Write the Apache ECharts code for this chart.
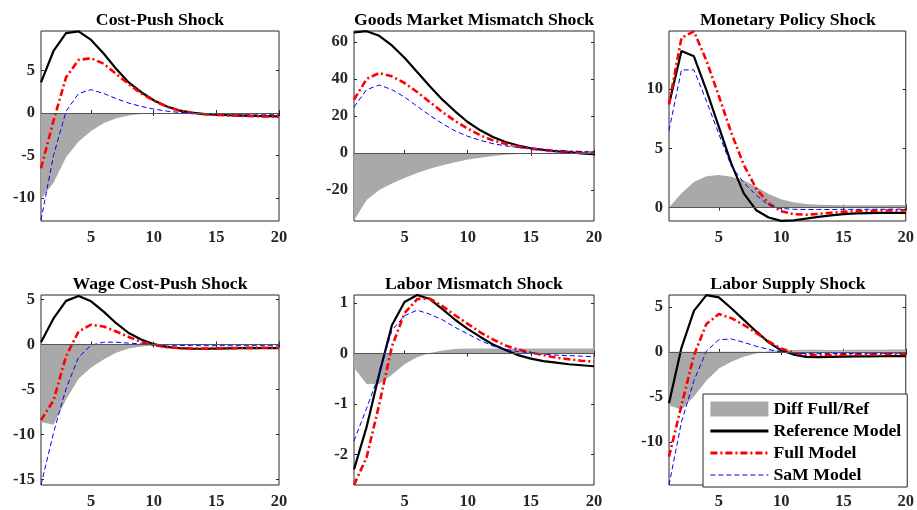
<!DOCTYPE html>
<html>
<head>
<meta charset="utf-8">
<script src="https://cdn.jsdelivr.net/npm/echarts@6/dist/echarts.min.js"></script>
<style>html,body{margin:0;padding:0;background:#fff}#c{width:917px;height:510px}</style>
</head>
<body>
<div id="c"></div>
<script>
// ---------- data ----------
const periods = [1,2,3,4,5,6,7,8,9,10,11,12,13,14,15,16,17,18,19,20];
const titles = ['Cost-Push Shock','Goods Market Mismatch Shock','Monetary Policy Shock','Wage Cost-Push Shock','Labor Mismatch Shock','Labor Supply Shock'];
const xTicks = [5,10,15,20];

// Cost-Push
const ref1  = [3.6, 7.3, 9.4, 9.6, 8.6, 7.0, 5.2, 3.6, 2.45, 1.5, 0.8, 0.32, 0.04, -0.12, -0.2, -0.26, -0.3, -0.34, -0.37, -0.4];
const full1 = [-6.5, -0.9, 4.2, 6.25, 6.45, 5.8, 4.6, 3.4, 2.3, 1.45, 0.78, 0.3, 0.02, -0.12, -0.22, -0.28, -0.33, -0.37, -0.4, -0.43];
const sam1  = [-12.6, -5.0, 0.2, 2.3, 2.75, 2.3, 1.7, 1.17, 0.78, 0.47, 0.23, 0.08, 0.0, -0.05, -0.08, -0.1, -0.12, -0.13, -0.14, -0.15];
const diff1 = [-10.1, -8.2, -5.2, -3.35, -2.1, -1.2, -0.62, -0.28, -0.12, -0.04, -0.01, 0, 0, 0, -0.01, -0.02, -0.03, -0.03, -0.03, -0.03];
const yTicks1 = [-10,-5,0,5];

// Goods Market Mismatch
const ref2  = [65.1, 65.8, 63.3, 58.1, 51.4, 43.7, 36.0, 28.8, 22.5, 16.7, 12.2, 8.6, 5.9, 4.0, 2.5, 1.6, 0.9, 0.35, -0.2, -0.7];
const full2 = [28.8, 40.0, 43.2, 41.4, 37.8, 32.9, 27.5, 22.1, 17.3, 13.1, 9.5, 6.8, 4.9, 3.4, 2.3, 1.6, 1.1, 0.7, 0.4, 0.2];
const sam2  = [24.8, 34.2, 36.7, 34.2, 30.2, 25.2, 20.3, 15.8, 11.9, 9.0, 6.8, 5.0, 3.8, 2.9, 2.2, 1.6, 1.2, 0.9, 0.7, 0.5];
const diff2 = [-36.5, -25.5, -20.0, -16.5, -13.5, -10.8, -8.5, -6.7, -5.0, -3.6, -2.6, -1.7, -1.0, -0.6, -0.2, 0, 0.2, 0.35, 0.6, 0.9];
const yTicks2 = [-20,0,20,40,60];

// Monetary Policy
const ref3  = [8.7, 13.2, 12.75, 9.9, 6.8, 3.7, 1.2, -0.22, -0.84, -1.12, -1.07, -0.93, -0.79, -0.65, -0.55, -0.49, -0.46, -0.45, -0.45, -0.45];
const full3 = [8.7, 14.3, 14.85, 12.4, 9.4, 6.3, 3.6, 1.6, 0.35, -0.3, -0.55, -0.6, -0.53, -0.44, -0.36, -0.3, -0.27, -0.25, -0.24, -0.23];
const sam3  = [6.5, 11.6, 11.6, 9.0, 6.2, 3.5, 2.1, 1.05, 0.2, -0.08, -0.14, -0.16, -0.16, -0.16, -0.15, -0.15, -0.14, -0.14, -0.13, -0.13];
const diff3 = [0, 1.2, 2.15, 2.65, 2.75, 2.6, 2.3, 1.75, 1.15, 0.7, 0.45, 0.3, 0.24, 0.21, 0.2, 0.2, 0.2, 0.2, 0.21, 0.21];
const yTicks3 = [0,5,10];

// Wage Cost-Push
const ref4  = [0.25, 2.9, 4.85, 5.4, 4.8, 3.65, 2.37, 1.28, 0.55, 0.04, -0.26, -0.4, -0.46, -0.47, -0.45, -0.43, -0.41, -0.4, -0.4, -0.4];
const full4 = [-8.4, -6.2, -1.3, 1.45, 2.2, 2.0, 1.45, 0.84, 0.29, -0.07, -0.29, -0.4, -0.44, -0.44, -0.42, -0.4, -0.38, -0.37, -0.36, -0.35];
const sam4  = [-15.6, -9.8, -4.9, -1.4, -0.07, 0.26, 0.26, 0.15, 0.07, 0.0, -0.06, -0.1, -0.12, -0.13, -0.13, -0.13, -0.13, -0.13, -0.13, -0.13];
const diff4 = [-8.6, -8.9, -6.1, -3.8, -2.55, -1.65, -0.92, -0.44, -0.22, -0.1, -0.03, 0, 0.02, 0.03, 0.03, 0.03, 0.03, 0.03, 0.04, 0.05];
const yTicks4 = [-15,-10,-5,0,5];

// Labor Mismatch
const ref5  = [-2.29, -1.45, -0.4, 0.56, 1.02, 1.16, 1.08, 0.88, 0.67, 0.49, 0.33, 0.18, 0.07, -0.03, -0.1, -0.15, -0.18, -0.21, -0.23, -0.25];
const full5 = [-2.6, -2.05, -1.0, 0.14, 0.8, 1.08, 1.09, 0.94, 0.76, 0.59, 0.42, 0.28, 0.16, 0.08, 0.02, -0.03, -0.08, -0.11, -0.14, -0.16];
const sam5  = [-1.73, -1.08, -0.4, 0.46, 0.75, 0.86, 0.78, 0.67, 0.52, 0.39, 0.26, 0.15, 0.08, 0.04, 0.02, -0.01, -0.03, -0.04, -0.05, -0.06];
const diff5 = [-0.28, -0.6, -0.6, -0.42, -0.21, -0.07, 0.01, 0.06, 0.09, 0.1, 0.1, 0.1, 0.1, 0.1, 0.1, 0.1, 0.1, 0.1, 0.1, 0.1];
const yTicks5 = [-2,-1,0,1];

// Labor Supply
const ref6  = [-5.7, 0.45, 4.55, 6.3, 6.05, 4.85, 3.55, 2.27, 1.06, 0.18, -0.3, -0.55, -0.59, -0.56, -0.53, -0.51, -0.5, -0.49, -0.48, -0.48];
const full6 = [-11.65, -5.95, -0.4, 3.1, 4.2, 3.75, 3.0, 2.1, 1.17, 0.37, -0.1, -0.32, -0.36, -0.34, -0.31, -0.28, -0.26, -0.25, -0.23, -0.22];
const sam6  = [-14.8, -7.8, -3.2, 0.07, 1.35, 1.43, 1.06, 0.62, 0.26, 0.0, -0.15, -0.2, -0.2, -0.19, -0.18, -0.17, -0.16, -0.16, -0.15, -0.15];
const diff6 = [-5.95, -6.4, -4.95, -3.2, -1.85, -1.1, -0.55, -0.17, 0.11, 0.19, 0.2, 0.23, 0.23, 0.22, 0.22, 0.23, 0.24, 0.24, 0.25, 0.26];
const yTicks6 = [-10,-5,0,5];

const panels = [
  {ref: ref1, full: full1, sam: sam1, diff: diff1, yTicks: yTicks1, ymin: -12.7, ymax: 9.65},
  {ref: ref2, full: full2, sam: sam2, diff: diff2, yTicks: yTicks2, ymin: -36.8, ymax: 65.9},
  {ref: ref3, full: full3, sam: sam3, diff: diff3, yTicks: yTicks3, ymin: -1.13, ymax: 14.88},
  {ref: ref4, full: full4, sam: sam4, diff: diff4, yTicks: yTicks4, ymin: -15.6, ymax: 5.5},
  {ref: ref5, full: full5, sam: sam5, diff: diff5, yTicks: yTicks5, ymin: -2.6, ymax: 1.16},
  {ref: ref6, full: full6, sam: sam6, diff: diff6, yTicks: yTicks6, ymin: -14.8, ymax: 6.32}
];

// ---------- layout / style ----------
const boxes = [
  {left: 41, top: 31, width: 238, height: 190},
  {left: 354, top: 31, width: 240, height: 190},
  {left: 669, top: 31, width: 238, height: 190},
  {left: 41, top: 295, width: 238, height: 192},
  {left: 354, top: 295, width: 240, height: 192},
  {left: 669, top: 295, width: 238, height: 192}
];
const FONT = 'Liberation Serif';
const AX = '#262626';
const zip = arr => periods.map((p, i) => [p, arr[i]]);

const grid = [], xAxis = [], yAxis = [], series = [], title = [];
boxes.forEach((b, i) => {
  const P = panels[i];
  grid.push({left: b.left, top: b.top, width: b.width, height: b.height, show: true, borderColor: AX, borderWidth: 1, backgroundColor: 'transparent', containLabel: false});
  title.push({text: titles[i], left: b.left + b.width / 2 - 5, top: b.top - 25, textAlign: 'center',
    textStyle: {fontFamily: FONT, fontWeight: 'bold', fontSize: 17.7, color: '#000'}});
  const tick = vals => ({show: true, inside: true, length: 3, customValues: vals, lineStyle: {color: AX, width: 1}});
  xAxis.push({type: 'value', gridIndex: i, min: 1, max: 20, position: 'bottom',
    axisLine: {show: false}, splitLine: {show: false}, axisTick: tick(xTicks),
    axisLabel: {customValues: xTicks, margin: 8, fontFamily: FONT, fontWeight: 'bold', fontSize: 16.5, color: AX}});
  xAxis.push({type: 'value', gridIndex: i, min: 1, max: 20, position: 'top',
    axisLine: {show: false}, splitLine: {show: false}, axisTick: tick(xTicks), axisLabel: {show: false}});
  yAxis.push({type: 'value', gridIndex: i, min: P.ymin, max: P.ymax, position: 'left',
    axisLine: {show: false}, splitLine: {show: false}, axisTick: tick(P.yTicks),
    axisLabel: {customValues: P.yTicks, margin: 6, fontFamily: FONT, fontWeight: 'bold', fontSize: 16.5, color: AX}});
  yAxis.push({type: 'value', gridIndex: i, min: P.ymin, max: P.ymax, position: 'right',
    axisLine: {show: false}, splitLine: {show: false}, axisTick: tick(P.yTicks), axisLabel: {show: false}});
  const xi = i * 2, yi = i * 2;
  series.push({name: 'Diff Full/Ref', type: 'line', xAxisIndex: xi, yAxisIndex: yi, data: zip(P.diff),
    symbol: 'none', silent: true, color: '#a9a9a9', lineStyle: {width: 0},
    areaStyle: {color: '#a9a9a9', opacity: 1, origin: 0},
    markLine: {silent: true, symbol: 'none', label: {show: false}, lineStyle: {color: '#555', width: 1, type: 'solid'}, data: [{yAxis: 0}]}});
  series.push({name: 'Reference Model', type: 'line', xAxisIndex: xi, yAxisIndex: yi, data: zip(P.ref),
    symbol: 'none', color: '#000', lineStyle: {width: 2.2, color: '#000'}});
  series.push({name: 'Full Model', type: 'line', xAxisIndex: xi, yAxisIndex: yi, data: zip(P.full),
    symbol: 'none', color: '#ff0000', lineStyle: {width: 2.6, color: '#ff0000', type: [7, 3, 2, 3]}});
  series.push({name: 'SaM Model', type: 'line', xAxisIndex: xi, yAxisIndex: yi, data: zip(P.sam),
    symbol: 'none', color: '#0000ff', lineStyle: {width: 1, color: '#0000ff', type: [5, 3]}});
});

const option = {
  animation: false,
  backgroundColor: '#fff',
  title, grid, xAxis, yAxis, series,
  legend: {
    orient: 'vertical', left: 703, top: 394,
    padding: [6, 6, 3, 6], itemGap: 4, itemWidth: 58, itemHeight: 15,
    backgroundColor: '#fff', borderColor: AX, borderWidth: 1, borderRadius: 0,
    selectedMode: false,
    textStyle: {fontFamily: FONT, fontWeight: 'bold', fontSize: 17.7, color: '#000'},
    data: [
      {name: 'Diff Full/Ref', icon: 'rect', itemStyle: {color: '#a9a9a9', borderWidth: 0}},
      {name: 'Reference Model', itemStyle: {opacity: 0}, lineStyle: {width: 2.8, color: '#000'}},
      {name: 'Full Model', itemStyle: {opacity: 0}, lineStyle: {width: 2.8, color: '#ff0000', type: [7, 3, 2, 3]}},
      {name: 'SaM Model', itemStyle: {opacity: 0}, lineStyle: {width: 1, color: '#0000ff', type: [5, 3]}}
    ]
  }
};
const chart = echarts.init(document.getElementById('c'), null, {renderer: 'canvas'});
chart.setOption(option);
</script>
</body>
</html>
